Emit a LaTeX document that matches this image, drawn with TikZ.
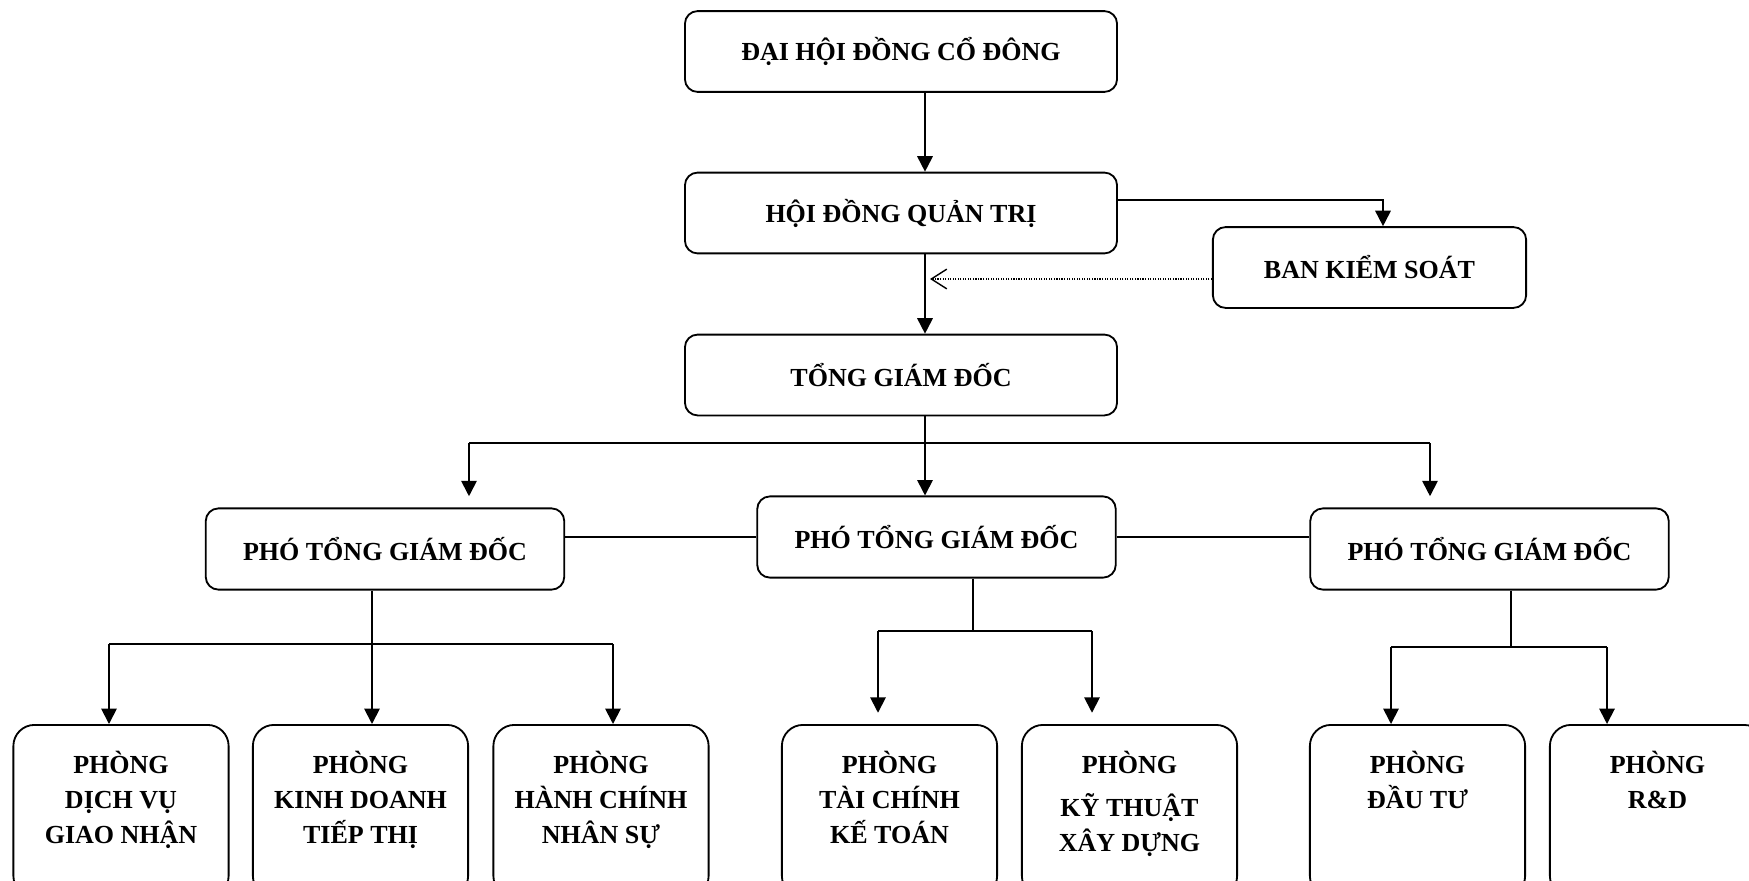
\documentclass[tikz,border=0pt]{standalone}
\usepackage{fontspec}
\setmainfont{Liberation Serif}
\usetikzlibrary{arrows.meta,calc}

\begin{document}
\begin{tikzpicture}[x=0.025cm, y=-0.025cm, line width=1.3pt,
		font=\fontsize{18.5}{25}\selectfont\bfseries,
		box/.style={draw, rounded corners=9pt, minimum width=10.8cm, minimum height=2.02cm, inner sep=0},
		vice/.style={draw, rounded corners=9pt, minimum width=8.96cm, minimum height=2.03cm, inner sep=0},
		dept/.style={draw, rounded corners=15pt, minimum width=5.38cm, minimum height=4.3cm, anchor=north, inner sep=0},
		depttext/.style={anchor=north, align=center, inner sep=0},
		arr/.style={-{Triangle[length=11pt,width=11pt]}},
		dotarr/.style={densely dotted, line width=0.8pt, -{Straight Barb[length=11pt,width=14pt,line width=1pt]}}]
		%%%%% START %%%%%
		\clip (0, 0) rectangle (1749, 881);
		
		\node[box] (dh) at (901, 51.5) {ĐẠI HỘI ĐỒNG CỔ ĐÔNG};
		\node[box] (hd) at (901, 213) {HỘI ĐỒNG QUẢN TRỊ};
		\node[box] (tgd) at (901, 375) {TỔNG GIÁM ĐỐC};
		\node[box, minimum width=7.83cm] (bks) at (1369.5, 267.5) {BAN KIỂM SOÁT};
		
		\node[vice] (p1) at (385, 549) {PHÓ TỔNG GIÁM ĐỐC};
		\node[vice] (p2) at (936.5, 537) {PHÓ TỔNG GIÁM ĐỐC};
		\node[vice] (p3) at (1489.5, 549) {PHÓ TỔNG GIÁM ĐỐC};
		
		\node[dept] (b1) at (121, 724) {};
		\node[dept] (b2) at (360.5, 724) {};
		\node[dept] (b3) at (601, 724) {};
		\node[dept] (b4) at (889.5, 724) {};
		\node[dept] (b5) at (1129.5, 724) {};
		\node[dept] (b6) at (1417.5, 724) {};
		\node[dept] (b7) at (1657.5, 724) {};
		
		\node[depttext] (b1t) at ($(b1.north)+(0, 26)$) {PHÒNG\\DỊCH VỤ\\GIAO NHẬN};
		\node[depttext] (b2t) at ($(b2.north)+(0, 26)$) {PHÒNG\\KINH DOANH\\TIẾP THỊ};
		\node[depttext] (b3t) at ($(b3.north)+(0, 26)$) {PHÒNG\\HÀNH CHÍNH\\NHÂN SỰ};
		\node[depttext] (b4t) at ($(b4.north)+(0, 26)$) {PHÒNG\\TÀI CHÍNH\\KẾ TOÁN};
		\node[depttext] (b5t) at ($(b5.north)+(0, 26)$) {PHÒNG\\[6pt]KỸ THUẬT\\XÂY DỰNG};
		\node[depttext] (b6t) at ($(b6.north)+(0, 26)$) {PHÒNG\\ĐẦU TƯ};
		\node[depttext] (b7t) at ($(b7.north)+(0, 26)$) {PHÒNG\\R\&D};
		
		% junctions
		\coordinate (t0) at (925, 443);
		\coordinate (t1) at (469, 443);
		\coordinate (t2) at (1430, 443);
		\coordinate (k1) at (1383, 200);
		\coordinate (k2) at (930, 279);
		\coordinate (a0) at (372, 644);
		\coordinate (a1) at (109, 644);
		\coordinate (a2) at (613, 644);
		\coordinate (m0) at (973, 631);
		\coordinate (m1) at (878, 631);
		\coordinate (m2) at (1092, 631);
		\coordinate (r0) at (1511, 647);
		\coordinate (r1) at (1391, 647);
		\coordinate (r2) at (1607, 647);
		
		\draw[arr] (dh.south -| t0) -- (hd.north -| t0);
		\draw[arr] (hd.south -| t0) -- (tgd.north -| t0);
		\draw[arr] (hd.east |- k1) -| (bks.north -| k1);
		\draw[dotarr] (bks.west |- k2) -- (k2);
		
		\draw (tgd.south -| t0) -- (t0);
		\draw (t1) -- (t2);
		\draw[arr, shorten >=8pt] (t1) -- (p1.north -| t1);
		\draw[arr] (t0) -- (p2.north -| t0);
		\draw[arr, shorten >=8pt] (t2) -- (p3.north -| t2);
		\draw (p1.east |- p2) -- (p2.west);
		\draw (p2.east) -- (p3.west |- p2);
		
		\draw (p1.south -| a0) -- (a0);
		\draw (a1) -- (a2);
		\draw[arr] (a1) -- (b1.north -| a1);
		\draw[arr] (a0) -- (b2.north -| a0);
		\draw[arr] (a2) -- (b3.north -| a2);
		
		\draw (p2.south -| m0) -- (m0);
		\draw (m1) -- (m2);
		\draw[arr, shorten >=8pt] (m1) -- (b4.north -| m1);
		\draw[arr, shorten >=8pt] (m2) -- (b5.north -| m2);
		
		\draw (p3.south -| r0) -- (r0);
		\draw (r1) -- (r2);
		\draw[arr] (r1) -- (b6.north -| r1);
		\draw[arr] (r2) -- (b7.north -| r2);
		%%%%% END %%%%%
\end{tikzpicture}
\end{document}
